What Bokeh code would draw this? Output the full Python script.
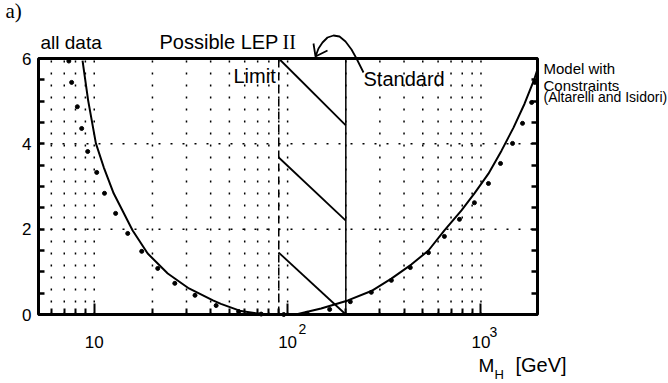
import math
from bokeh.plotting import figure
from bokeh.models import (Range1d, FixedTicker, LinearAxis, Label, PolyAnnotation,
                          BoxAnnotation, CustomJSTickFormatter)
from bokeh.embed import file_html
from bokeh.resources import INLINE

# ---------------- data ----------------
# solid curve: Standard Model fit, chi^2 vs M_H [GeV]
solid_mh = [8.7, 9.3, 10.2, 11.2, 12.6, 15.8, 18.9, 24.0, 30.9, 41.1, 45.2, 57.4,
            72.9, 92.5, 113, 149, 205, 271, 344, 436, 535, 647, 793, 925, 1093,
            1277, 1473, 1680, 1892, 1950]
solid_chi2 = [5.95, 5.02, 4.01, 3.45, 2.84, 1.97, 1.43, 0.96, 0.61, 0.33, 0.25, 0.08,
              0.01, 0.0, 0.01, 0.14, 0.33, 0.55, 0.84, 1.17, 1.50, 1.97, 2.44, 2.84,
              3.30, 3.84, 4.38, 4.94, 5.53, 5.72]
# dotted curve: model with constraints (Altarelli and Isidori)
dots_mh = [7.39, 7.64, 8.18, 8.61, 9.25, 10.3, 11.3, 12.9, 14.9, 17.6, 21.3, 26.1,
           33.2, 42.7, 55.8, 73, 95.5, 126, 165, 211, 271, 344, 431, 535, 647, 774,
           925, 1093, 1262, 1456, 1640, 1828, 1897]
dots_chi2 = [5.94, 5.44, 4.87, 4.36, 3.82, 3.33, 2.84, 2.37, 1.90, 1.48, 1.08, 0.73,
             0.45, 0.21, 0.07, 0.01, 0.0, 0.03, 0.12, 0.30, 0.52, 0.80, 1.10, 1.45,
             1.83, 2.23, 2.62, 3.07, 3.54, 4.01, 4.48, 4.97, 5.44]
# hatched band between LEP II limit and the Standard bound
lep_limit = 90
sm_bound = 200
hatch_y_at_limit = [6.0, 3.68, 1.45]
hatch_y_at_bound = [4.43, 2.20, 0.0]

x_major = [10, 100, 1000]
x_minor = [6, 7, 8, 9, 20, 30, 40, 50, 60, 70, 80, 90,
           200, 300, 400, 500, 600, 700, 800, 900]
x_grid = [6, 7, 8, 9, 10, 20, 30, 40, 50, 60, 70, 80, 90, 100,
          200, 300, 400, 500, 600, 700, 800, 900, 1000]
y_major = [0, 2, 4, 6]
y_minor = [0.5, 1, 1.5, 2.5, 3, 3.5, 4.5, 5, 5.5]
y_grid = [2, 4]
x_tick_base = "10"
x_tick_powers = ["", "2", "3"]

# ---------------- geometry ----------------
X0, X1 = 5.15, 1960          # data limits of the boxed plot area
Y0, Y1 = 0, 6
W, H = 668, 383
BOX_L, BOX_R, BOX_T, BOX_B = 38, 537, 58, 314   # box position in page pixels

LX0, LX1 = math.log10(X0), math.log10(X1)
PX_PER_DEC = (BOX_R - BOX_L) / (LX1 - LX0)
PX_PER_Y = (BOX_B - BOX_T) / (Y1 - Y0)

def dx(px):
    return 10 ** (LX0 + (px - BOX_L) / PX_PER_DEC)

def dy(py):
    return Y0 + (BOX_B - py) / PX_PER_Y

SANS = "Liberation Sans"
SERIF = "Liberation Serif"

p = figure(width=W, height=H, x_axis_type="log",
           x_range=Range1d(dx(0), dx(W)), y_range=Range1d(dy(H), dy(0)),
           output_backend="svg", toolbar_location=None, min_border=0)
p.background_fill_color = "white"
p.border_fill_color = "white"
p.outline_line_color = None
p.grid.visible = False

# dotted grid inside the box
p.segment(x0=x_grid, y0=[Y0] * len(x_grid), x1=x_grid, y1=[Y1] * len(x_grid),
          line_color="black", line_width=1.5, line_dash="2 10")
p.segment(x0=[X0] * len(y_grid), y0=y_grid, x1=[X1] * len(y_grid), y1=y_grid,
          line_color="black", line_width=1.5, line_dash="2 10")

# bottom axis (sits on the box)
xa = p.xaxis[0]
xa.fixed_location = Y0
xa.ticker = FixedTicker(ticks=x_major, minor_ticks=x_minor)
xa.formatter = CustomJSTickFormatter(code="return '%s'" % x_tick_base)
xa.axis_line_color = None
xa.major_tick_in = 11
xa.major_tick_out = 0
xa.minor_tick_in = 6
xa.minor_tick_out = 0
xa.major_tick_line_width = 2
xa.minor_tick_line_width = 2
xa.major_label_text_font = SANS
xa.major_label_text_font_size = "17px"
xa.major_label_text_color = "black"
xa.major_label_standoff = 21

# left axis
ya = p.yaxis[0]
ya.fixed_location = X0
ya.ticker = FixedTicker(ticks=y_major, minor_ticks=y_minor)
ya.axis_line_color = None
ya.major_tick_in = 6
ya.major_tick_out = 0
ya.minor_tick_in = 6
ya.minor_tick_out = 0
ya.major_tick_line_width = 2.5
ya.minor_tick_line_width = 2.5
ya.major_label_text_font = SANS
ya.major_label_text_font_size = "17px"
ya.major_label_text_color = "black"
ya.major_label_standoff = 7

# right axis (ticks only)
ra = LinearAxis(fixed_location=X1, ticker=FixedTicker(ticks=y_major, minor_ticks=y_minor),
                axis_line_color=None, major_tick_in=6, major_tick_out=0,
                minor_tick_in=6, minor_tick_out=0, major_tick_line_width=2.5,
                minor_tick_line_width=2.5, major_label_text_color=None)
p.add_layout(ra, "right")

# box
p.add_layout(BoxAnnotation(left=X0, right=X1, bottom=Y0, top=Y1,
                           fill_color=None, fill_alpha=0,
                           line_color="black", line_alpha=1, line_width=3))

# hatched region
p.segment(x0=[lep_limit], y0=[Y0], x1=[lep_limit], y1=[Y1],
          line_color="black", line_width=1.5, line_dash="8 5")
p.segment(x0=[sm_bound], y0=[Y0], x1=[sm_bound], y1=[Y1],
          line_color="black", line_width=1.5)
p.segment(x0=[lep_limit] * len(hatch_y_at_limit), y0=hatch_y_at_limit,
          x1=[sm_bound] * len(hatch_y_at_bound), y1=hatch_y_at_bound,
          line_color="black", line_width=1.8)

# curves
p.line(solid_mh, solid_chi2, line_color="black", line_width=2)
p.scatter(dots_mh, dots_chi2, size=4, color="black")

# ---------------- texts ----------------
K_BASE = 0.42   # renderer places "alphabetic" text this many em lower than expected

def lab(text, px, py, size, font=SANS):
    p.add_layout(Label(x=dx(px), y=dy(py - K_BASE * size), text=text, text_font=font,
                       text_font_size="%dpx" % size, text_color="black",
                       text_align="left", text_baseline="alphabetic"))

lab("a)", 5, 19, 21, SERIF)
lab("all data", 40, 50, 19)
lab("Possible LEP", 159, 50, 20)
lab("II", 282, 50, 20, SERIF)
lab("Limit", 233, 84, 20)
lab("Standard", 363, 87, 20)
lab("Model with", 543, 74, 15)
lab("Constraints", 543, 91, 15)
lab("(Altarelli and Isidori)", 543, 102, 14)
lab(x_tick_powers[1], 298, 334, 14)
lab(x_tick_powers[2], 489, 337, 14)
lab("M", 478, 373, 19)
lab("H", 494, 379, 13)
lab("[GeV]", 515, 373, 20)

# curved arrow (page px path), retraced so the closed polygon looks like an open stroke
curve = [(363, 72), (360, 66), (356, 58), (351, 49), (345, 41), (339, 36), (333, 35),
         (327, 37), (322, 42), (318, 48), (315, 56)]
head = [(315, 56), (313, 43), (315, 56), (327, 50), (315, 56)]
path = curve + head[1:] + curve[::-1][1:]
p.add_layout(PolyAnnotation(xs=[dx(a) for a, b in path], ys=[dy(b) for a, b in path],
                            fill_color=None, fill_alpha=0, line_color="black",
                            line_alpha=1, line_width=1.8))

open("out.html", "w").write(file_html(p, INLINE))
